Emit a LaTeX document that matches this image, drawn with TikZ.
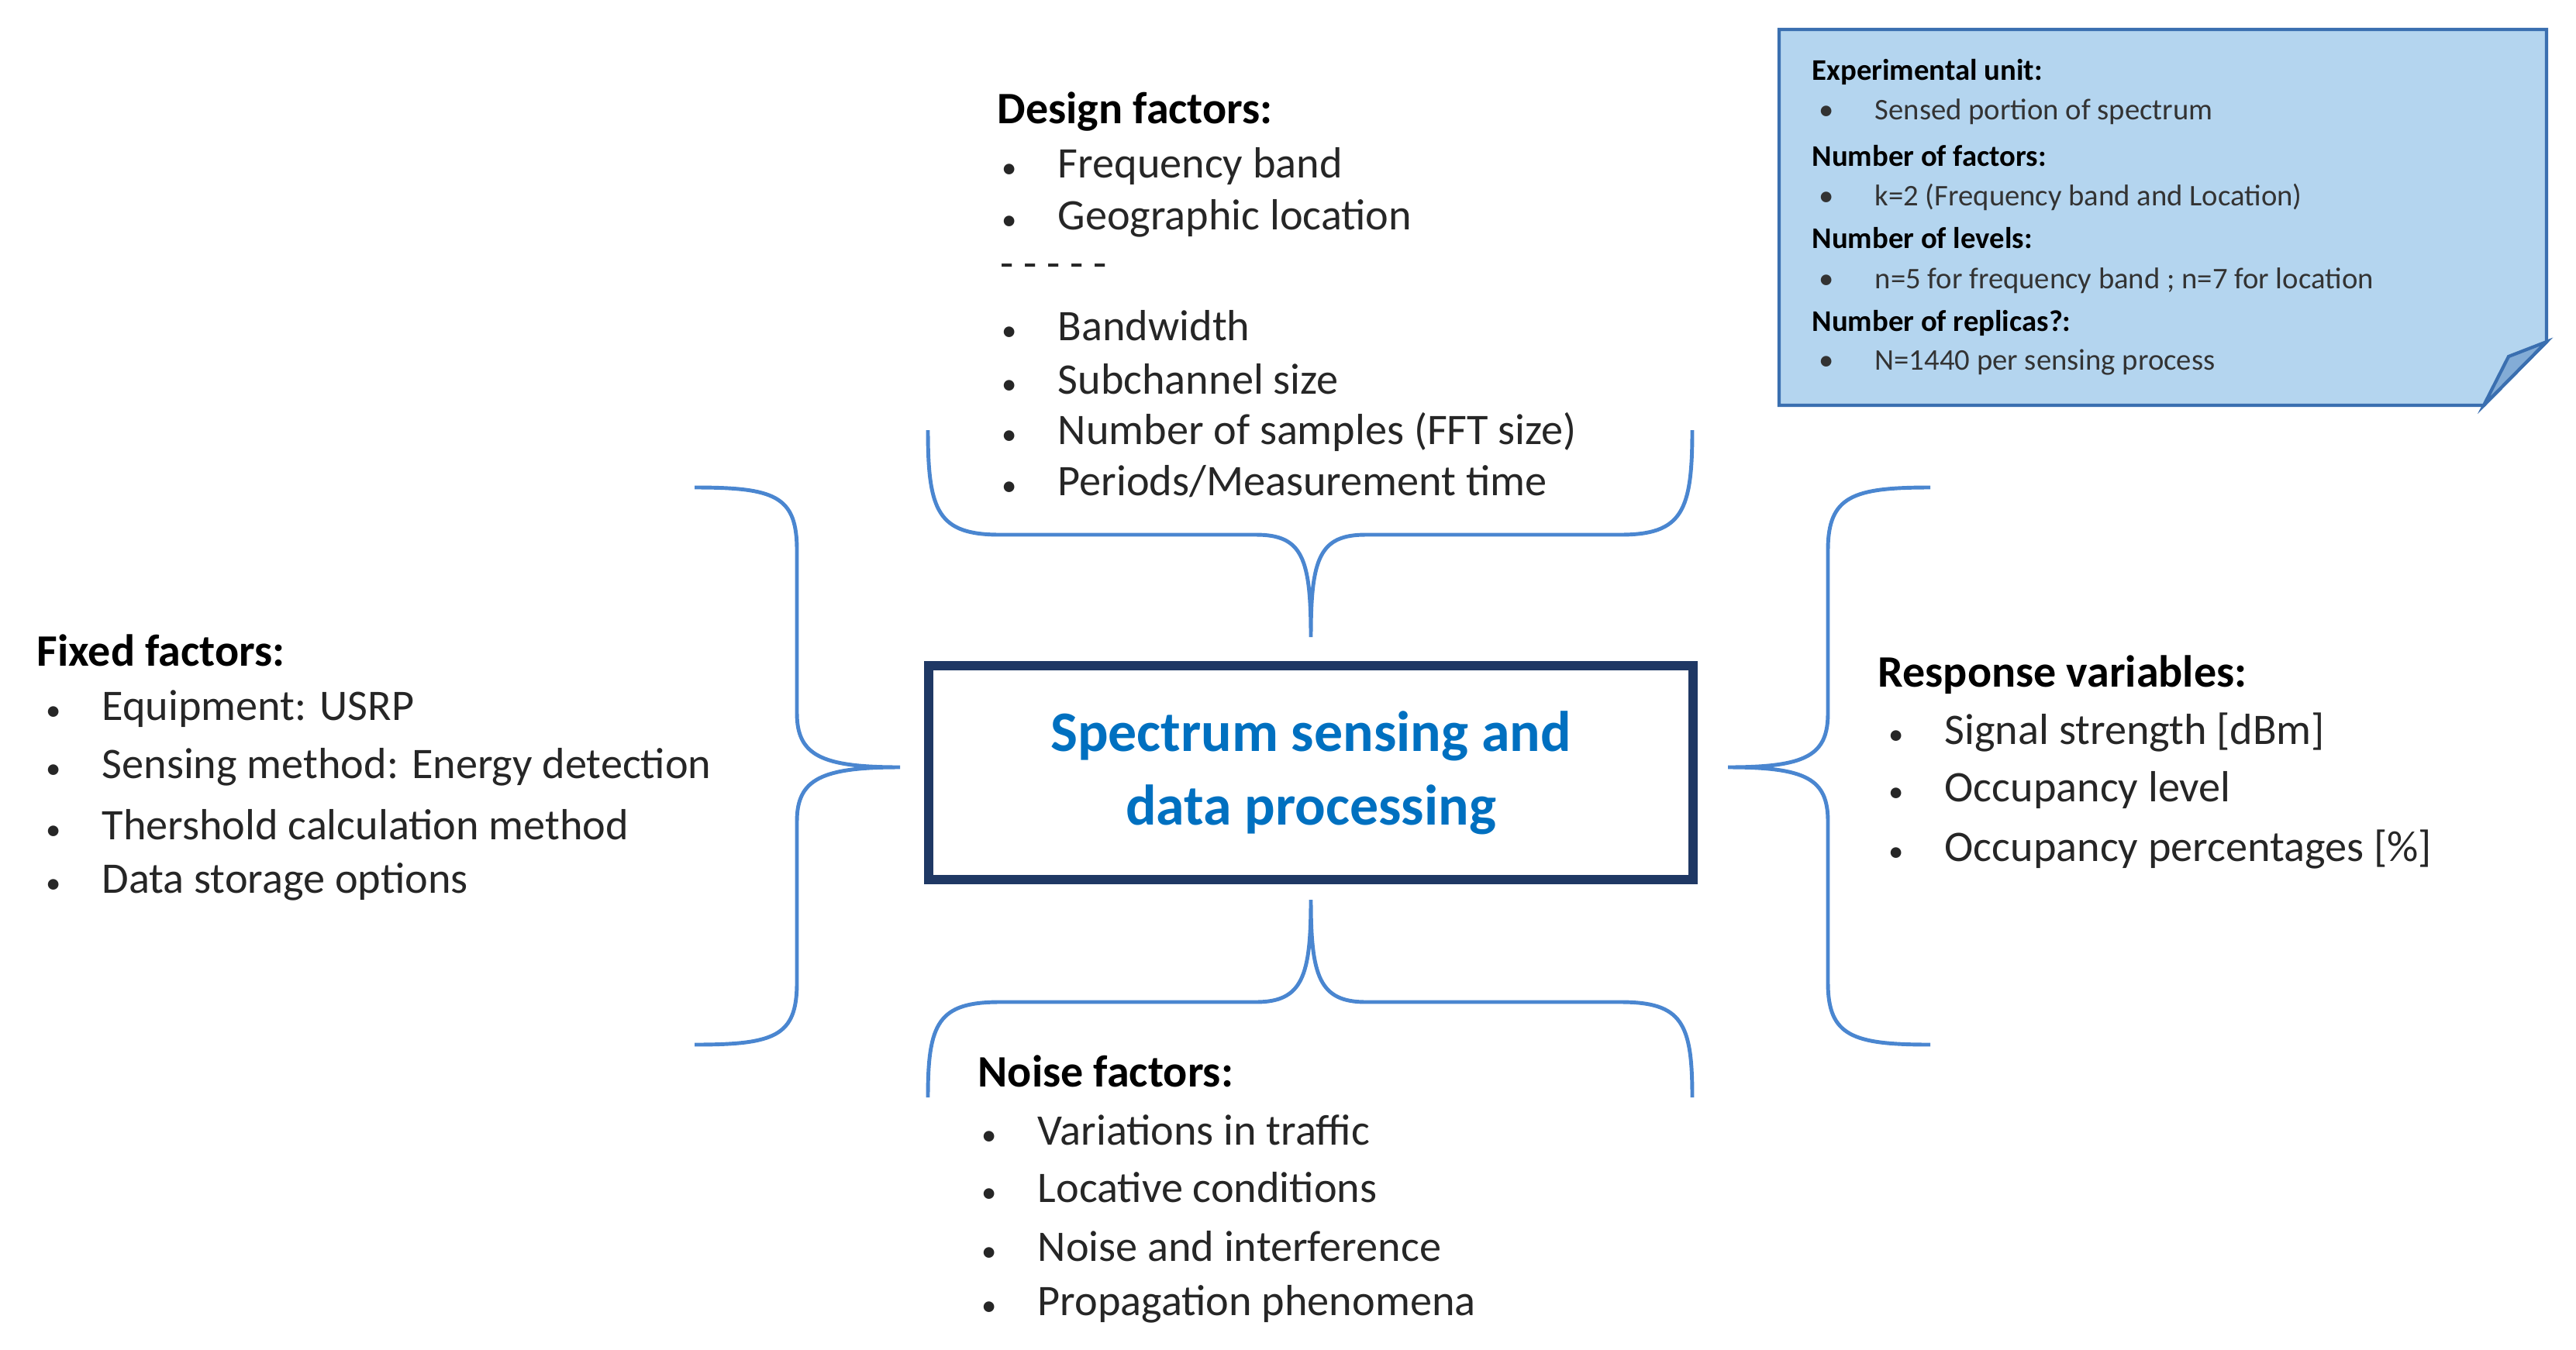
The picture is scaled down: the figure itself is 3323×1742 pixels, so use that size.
\documentclass[tikz,border=0pt]{standalone}
\usepackage{fontspec}
\setmainfont{Carlito}
\newcommand{\bul}{{\fontsize{11}{11}\selectfont•}}
\begin{document}
\begin{tikzpicture}[x=0.01cm,y=-0.01cm,
  txt/.style={anchor=west,inner sep=0pt,font=\fontsize{16}{20}\selectfont,text=black!85},
  ttl/.style={txt,font=\fontsize{16.5}{20}\selectfont\bfseries,text=black},
  ntxt/.style={anchor=west,inner sep=0pt,font=\fontsize{11}{13}\selectfont,text=black!80},
  nttl/.style={ntxt,font=\fontsize{11}{13}\selectfont\bfseries,text=black}]
\useasboundingbox (0,0) rectangle (3323,1742);
\definecolor{bracec}{HTML}{4A86D0}
\definecolor{notef}{HTML}{B4D5EF}
\definecolor{noted}{HTML}{3A6FB0}
\definecolor{navy}{HTML}{1F3864}
\definecolor{ctext}{HTML}{0070C0}
\tikzset{brace/.style={draw=bracec,line width=1.4pt}}
% note
\draw[draw=noted,fill=notef,line width=1.2pt] (2295,38) -- (3285,38) -- (3285,441) -- (3204,523) -- (2295,523) -- cycle;
\draw[draw=noted,fill=noted!40!notef,line width=1.2pt] (3285,441) -- (3236,460) -- (3204,523) -- cycle;
\node[nttl] (n1) at (2337,93) {Experimental unit:};
\node[ntxt] (n2) at (2346,144) {\bul\hspace{15pt}Sensed portion of spectrum};
\node[nttl] (n3) at (2337,201) {Number of factors:};
\node[ntxt] (n4) at (2346,254) {\bul\hspace{15pt}k=2 (Frequency band and Location)};
\node[nttl] (n5) at (2337,307) {Number of levels:};
\node[ntxt] (n6) at (2346,362) {\bul\hspace{15pt}n=5 for frequency band ; n=7 for location};
\node[nttl] (n7) at (2337,417) {Number of replicas?:};
\node[ntxt] (n8) at (2346,468) {\bul\hspace{15pt}N=1440 per sensing process};
% center
\node[draw=navy,line width=3.5pt,minimum width=986*0.01cm,minimum height=276*0.01cm,align=center,
  font=\fontsize{21}{27}\selectfont\bfseries,text=ctext] (c) at (1691,997) {Spectrum sensing and\\data processing};
% braces
\draw[brace] (1197,555) .. controls (1197,660) and (1210,690) .. (1290,690) -- (1620,690) .. controls (1680,690) and (1691,720) .. (1691,822)
  .. controls (1691,720) and (1702,690) .. (1762,690) -- (2090,690) .. controls (2170,690) and (2183,660) .. (2183,555);
\draw[brace] (1197,1416) .. controls (1197,1320) and (1210,1293) .. (1290,1293) -- (1620,1293) .. controls (1680,1293) and (1691,1260) .. (1691,1161)
  .. controls (1691,1260) and (1702,1293) .. (1762,1293) -- (2090,1293) .. controls (2170,1293) and (2183,1320) .. (2183,1416);
\draw[brace] (896,629) .. controls (1000,629) and (1028,640) .. (1028,710) -- (1028,920) .. controls (1028,975) and (1060,990) .. (1161,990)
  .. controls (1060,990) and (1028,1005) .. (1028,1060) -- (1028,1268) .. controls (1028,1337) and (1000,1348) .. (896,1348);
\draw[brace] (2490,629) .. controls (2390,629) and (2358,640) .. (2358,710) -- (2358,920) .. controls (2358,975) and (2330,990) .. (2229,990)
  .. controls (2330,990) and (2358,1005) .. (2358,1060) -- (2358,1268) .. controls (2358,1337) and (2390,1348) .. (2490,1348);
% design factors
\node[ttl] (d0) at (1286,144) {Design factors:};
\node[txt] (d1) at (1292,214) {\bul\hspace{15pt}Frequency band};
\node[txt] (d2) at (1292,282) {\bul\hspace{15pt}Geographic location};
\node[txt] (d3) at (1290,350) {- - - - -};
\node[txt] (d4) at (1292,420) {\bul\hspace{15pt}Bandwidth};
\node[txt] (d5) at (1292,489) {\bul\hspace{15pt}Subchannel size};
\node[txt] (d6) at (1292,557) {\bul\hspace{15pt}Number of samples (FFT size)};
\node[txt] (d7) at (1292,621) {\bul\hspace{15pt}Periods/Measurement time};
% fixed factors
\node[ttl] (f0) at (47,839) {Fixed factors:};
\node[txt] (f1) at (59,915) {\bul\hspace{15pt}Equipment: USRP};
\node[txt] (f2) at (59,990) {\bul\hspace{15pt}Sensing method: Energy detection};
\node[txt] (f3) at (59,1064) {\bul\hspace{15pt}Thershold calculation method};
\node[txt] (f4) at (59,1138) {\bul\hspace{15pt}Data storage options};
% response
\node[ttl] (r0) at (2422,871) {Response variables:};
\node[txt] (r1) at (2436,945) {\bul\hspace{15pt}Signal strength [dBm]};
\node[txt] (r2) at (2436,1019) {\bul\hspace{15pt}Occupancy level};
\node[txt] (r3) at (2436,1096) {\bul\hspace{15pt}Occupancy percentages [\%]};
% noise
\node[ttl] (z0) at (1261,1382) {Noise factors:};
\node[txt] (z1) at (1266,1458) {\bul\hspace{15pt}Variations in traffic};
\node[txt] (z2) at (1266,1532) {\bul\hspace{15pt}Locative conditions};
\node[txt] (z3) at (1266,1608) {\bul\hspace{15pt}Noise and interference};
\node[txt] (z4) at (1266,1683) {\bul\hspace{15pt}Propagation phenomena};
\end{tikzpicture}
\end{document}
